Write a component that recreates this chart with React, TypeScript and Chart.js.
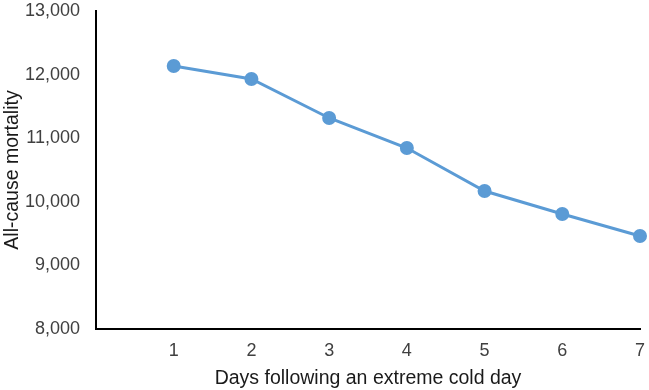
import React, { useEffect, useRef } from "react";
import { Chart, registerables } from "chart.js";

Chart.register(...registerables);

const days = [1, 2, 3, 4, 5, 6, 7];
const mortality = [12135, 11931, 11318, 10846, 10170, 9808, 9462];
const yTicks = [8000, 9000, 10000, 11000, 12000, 13000];

export default function App() {
  const ref = useRef<HTMLCanvasElement | null>(null);
  useEffect(() => {
    if (!ref.current) return;
    const tickFont = { family: "'Liberation Sans', Arial, sans-serif", size: 18 };
    const titleFont = { family: "'Liberation Sans', Arial, sans-serif", size: 19.5 };
    const chart = new Chart(ref.current, {
      type: "line",
      data: {
        datasets: [
          {
            data: days.map((d, i) => ({ x: d, y: mortality[i] })),
            borderColor: "#5B9BD5",
            backgroundColor: "#5B9BD5",
            borderWidth: 3,
            pointRadius: 5.5,
            pointHoverRadius: 5.5,
            tension: 0,
            clip: false as any,
          },
        ],
      },
      options: {
        animation: false,
        responsive: false,
        layout: { padding: { top: 11, right: 9, left: 0, bottom: 0 } },
        plugins: { legend: { display: false }, tooltip: { enabled: false } },
        scales: {
          x: {
            type: "linear",
            min: 0,
            max: 7,
            afterBuildTicks: (s: any) => {
              s.ticks = days.map((d) => ({ value: d }));
            },
            afterFit: (s: any) => {
              s.height = 61;
              s.paddingLeft = 0;
              s.paddingRight = 0;
            },
            grid: { display: false, drawTicks: false },
            border: { display: true, color: "#000", width: 2 },
            ticks: { color: "#404040", font: tickFont, padding: 11 },
            title: {
              display: true,
              text: "Days following an extreme cold day",
              color: "#1a1a1a",
              font: titleFont,
              padding: { top: 2, bottom: 0 },
            },
          },
          y: {
            min: 8000,
            max: 13000,
            afterBuildTicks: (s: any) => {
              s.ticks = yTicks.map((v) => ({ value: v }));
            },
            afterFit: (s: any) => {
              s.width = 96;
              s.paddingTop = 0;
              s.paddingBottom = 0;
            },
            grid: { display: false, drawTicks: false },
            border: { display: true, color: "#000", width: 2 },
            ticks: {
              color: "#404040",
              font: tickFont,
              padding: 16,
              callback: (v: any) => Number(v).toLocaleString("en-US"),
            },
            title: {
              display: true,
              text: "All-cause mortality",
              color: "#1a1a1a",
              font: titleFont,
              padding: { top: 1, bottom: 0 },
            },
          },
        },
      },
    });
    return () => chart.destroy();
  }, []);
  return (
    <div style={{ position: "absolute", left: 0, top: 0, width: 649, height: 390, background: "#fff" }}>
      <canvas ref={ref} width={649} height={390} style={{ width: 649, height: 390 }} />
    </div>
  );
}
